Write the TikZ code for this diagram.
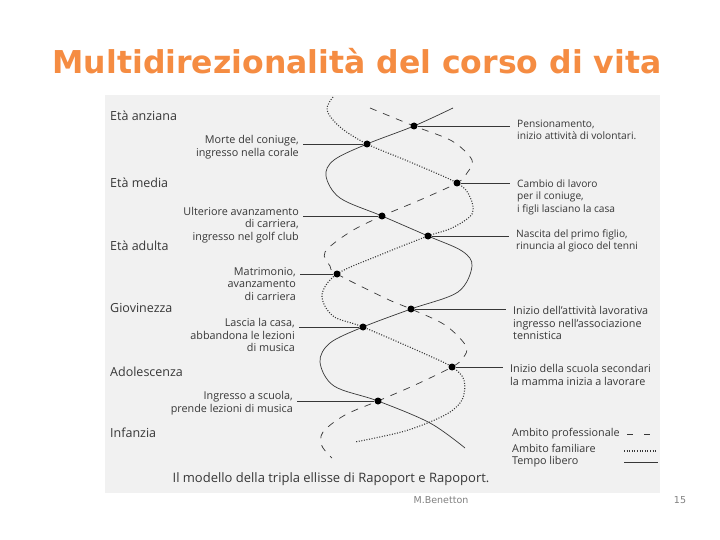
\documentclass[tikz,border=0pt]{standalone}
\usepackage{fontspec}
\setmainfont{Open Sans}
\newfontfamily\titlefont{DejaVu Sans}
\usetikzlibrary{positioning}
\definecolor{titleorange}{RGB}{245,140,66}
\definecolor{scan}{RGB}{241,241,241}
\definecolor{ink}{RGB}{55,55,55}

\begin{document}
\begin{tikzpicture}[x=1pt,y=-1pt,
    dot/.style={circle,fill=black,inner sep=0pt,minimum size=7pt},
    age/.style={anchor=west,font=\fontsize{12.5}{14}\selectfont,text=ink,inner sep=0pt},
    lbl/.style={font=\fontsize{10.8}{12.5}\selectfont,text=ink,inner ysep=1pt},
    ltxt/.style={lbl,align=right,anchor=east,inner xsep=4pt},
    rtxt/.style={lbl,align=left,anchor=west,inner xsep=7pt,font=\fontsize{10.2}{12.5}\selectfont},
    leader/.style={draw=ink,line width=0.6pt},
    tempo/.style={ink,line width=0.7pt},
    famiglia/.style={ink,line width=1.1pt,dash pattern=on 1pt off 1.6pt},
    lavoro/.style={ink,line width=0.7pt,dash pattern=on 7pt off 7pt}]
\useasboundingbox (0,0) rectangle (720,540);
\fill[white] (0,0) rectangle (720,540);
\fill[scan] (105,95) rectangle (660,493);

\node[font=\titlefont\bfseries\fontsize{31.5}{36}\selectfont,text=titleorange] (title) at (357,61) {Multidirezionalità del corso di vita};

% le tre ellissi
\draw[tempo] plot[smooth,tension=0.55] coordinates {(453,108) (414,126) (367,144) (334,160) (326,176) (340,198) (382,216) (428,236) (462,251) (472,266) (458,292) (411,309) (363,327) (330,343) (320,362) (334,386) (378,401) (430,423) (465,448)};
\draw[famiglia] plot[smooth,tension=0.55] coordinates {(333,97) (327,110) (340,127) (367,144) (410,162) (457,183) (470,197) (472,214) (452,228) (428,236) (380,255) (337,274) (322,295) (333,316) (363,327) (423,353) (452,367) (464,380) (462,400) (445,415) (405,431) (355,442)};
\draw[lavoro] plot[smooth,tension=0.55] coordinates {(370,108) (414,126) (452,141) (472,160) (467,173) (457,183) (420,200) (382,216) (350,232) (325,252) (330,266) (337,274) (387,299) (411,309) (445,325) (466,346) (463,358) (452,367) (415,385) (378,401) (345,415) (323,432) (322,446) (332,458)};

\node[dot] (d1) at (414,126) {};
\node[dot] (d2) at (367,144) {};
\node[dot] (d3) at (457,183) {};
\node[dot] (d4) at (382,216) {};
\node[dot] (d5) at (428,236) {};
\node[dot] (d6) at (337,274) {};
\node[dot] (d7) at (411,309) {};
\node[dot] (d8) at (363,327) {};
\node[dot] (d9) at (452,367) {};
\node[dot] (d10) at (378,401) {};

% eta
\node[age] (e1) at (110,116) {Età anziana};
\node[age] (e2) at (110,183) {Età media};
\node[age] (e3) at (110,246) {Età adulta};
\node[age] (e4) at (110,308) {Giovinezza};
\node[age] (e5) at (110,372) {Adolescenza};
\node[age] (e6) at (110,433) {Infanzia};

% eventi a sinistra
\node[ltxt] (l2) at (303,147) {Morte del coniuge,\\ingresso nella corale};
\node[ltxt] (l4) at (303,225) {Ulteriore avanzamento\\di carriera,\\ingresso nel golf club};
\node[ltxt] (l6) at (300,284) {Matrimonio,\\avanzamento\\di carriera};
\node[ltxt] (l8) at (299,335) {Lascia la casa,\\abbandona le lezioni\\di musica};
\node[ltxt] (l10) at (297,403) {Ingresso a scuola,\\prende lezioni di musica};
\draw[leader] (d2) -- (d2 -| l2.east);
\draw[leader] (d4) -- (d4 -| l4.east);
\draw[leader] (d6) -- (d6 -| l6.east);
\draw[leader] (d8) -- (d8 -| l8.east);
\draw[leader] (d10) -- (d10 -| l10.east);

% eventi a destra
\node[rtxt] (r1) at (510,130) {Pensionamento,\\inizio attività di volontari.};
\node[rtxt] (r3) at (510,197) {Cambio di lavoro\\per il coniuge,\\i figli lasciano la casa};
\node[rtxt] (r5) at (509,241) {Nascita del primo figlio,\\rinuncia al gioco del tenni};
\node[rtxt,font=\fontsize{10.8}{12.5}\selectfont] (r7) at (506,323) {Inizio dell'attività lavorativa\\ingresso nell'associazione\\tennistica};
\node[rtxt,font=\fontsize{10.8}{13.5}\selectfont] (r9) at (503,375) {Inizio della scuola secondari\\la mamma inizia a lavorare};
\draw[leader] (d1) -- (d1 -| r1.west);
\draw[leader] (d3) -- (d3 -| r3.west);
\draw[leader] (d5) -- (d5 -| r5.west);
\draw[leader] (d7) -- (d7 -| r7.west);
\draw[leader] (d9) -- (d9 -| r9.west);

% legenda
\node[lbl,anchor=west,inner xsep=0pt] (g1) at (512,434) {Ambito professionale};
\node[lbl,anchor=west,inner xsep=0pt] (g2) at (512,448) {Ambito familiare};
\node[lbl,anchor=west,inner xsep=0pt] (g3) at (512,462) {Tempo libero};
\coordinate (g1a) at (627,434); \coordinate (g1b) at (650,434);
\coordinate (g2a) at (624,451); \coordinate (g2b) at (657,451);
\coordinate (g3a) at (624,462); \coordinate (g3b) at (658,462);
\draw[ink,line width=0.7pt,dash pattern=on 6pt off 11pt] (g1a) -- (g1b);
\draw[famiglia] (g2a) -- (g2b);
\draw[tempo] (g3a) -- (g3b);

\node[font=\fontsize{13}{15}\selectfont,text=ink] (cap) at (331,479) {Il modello della tripla ellisse di Rapoport e Rapoport.};

\node[font=\titlefont\fontsize{9.5}{11}\selectfont,text=gray] (autore) at (441,500) {M.Benetton};
\node[font=\titlefont\fontsize{9.5}{11}\selectfont,text=gray] (pagina) at (680,500) {15};
\end{tikzpicture}
\end{document}
